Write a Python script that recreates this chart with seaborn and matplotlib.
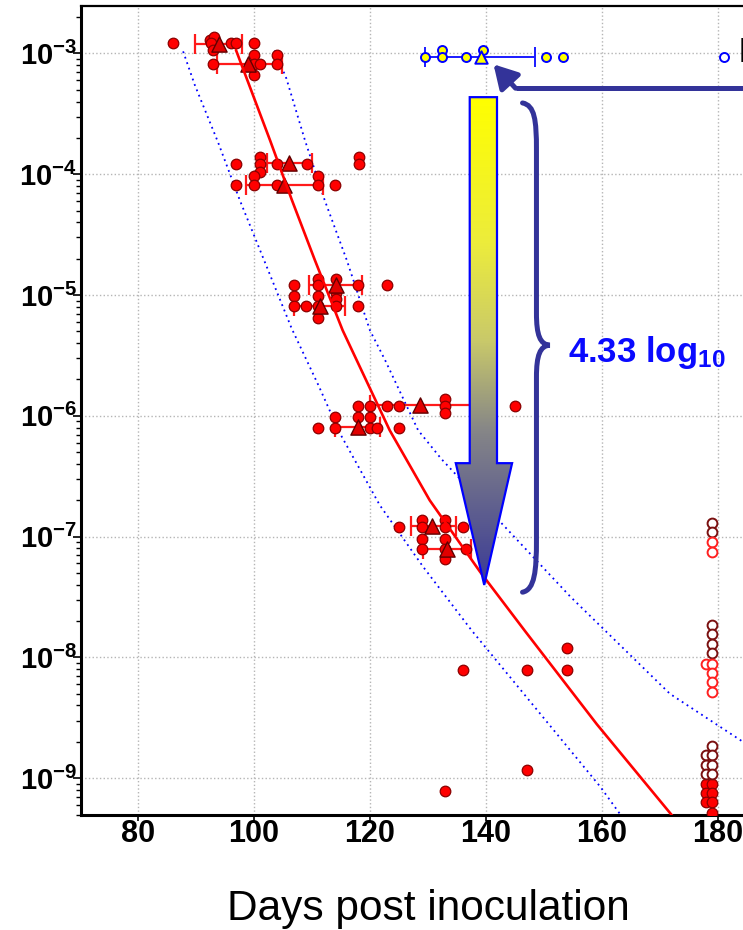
import numpy as np
import pandas as pd
import seaborn as sns
import matplotlib.pyplot as plt
from matplotlib.path import Path
from matplotlib.patches import PathPatch, Polygon
from matplotlib.colors import LinearSegmentedColormap
from matplotlib.ticker import LogLocator, FuncFormatter, NullFormatter

# individual animals (filled red circles), day of death vs. dilution
red_days = [86.0, 92.4, 93.2, 92.6, 93.0, 96.0, 97.0, 100.0,
            93.0, 100.0, 100.0, 100.0, 101.0, 104.0, 104.0,
            97.0, 101.0, 101.0, 101.0, 104.0, 109.1, 118.1, 118.1,
            97.0, 100.0, 100.0, 104.0, 111.0, 111.0, 114.0,
            106.9, 111.1, 111.1, 114.1, 118.0, 123.0,
            106.9, 106.9, 109.0, 111.1, 111.1, 111.1, 114.1, 114.1, 114.1, 118.0,
            118.0, 120.0, 123.0, 125.0, 132.9, 132.9, 132.9, 145.0,
            111.1, 114.0, 114.0, 118.0, 120.0, 120.0, 121.2, 125.0,
            125.0, 129.0, 129.0, 133.0, 133.0, 136.0,
            129.0, 129.0, 133.0, 133.0, 133.0, 136.5,
            136.0, 147.0, 153.9, 153.9, 147.0, 132.9,
            178.0, 179.0, 178.0, 179.0, 178.0, 179.0, 179.0]
red_conc = [1.21e-3, 1.30e-3, 1.36e-3, 1.21e-3, 1.06e-3, 1.21e-3, 1.21e-3, 1.21e-3,
            8.1e-4, 9.7e-4, 8.1e-4, 6.6e-4, 8.1e-4, 9.7e-4, 8.1e-4,
            1.21e-4, 1.39e-4, 1.21e-4, 1.05e-4, 1.21e-4, 1.21e-4, 1.38e-4, 1.21e-4,
            8.1e-5, 9.6e-5, 8.1e-5, 8.1e-5, 9.6e-5, 8.1e-5, 8.1e-5,
            1.2e-5, 1.37e-5, 1.2e-5, 1.37e-5, 1.2e-5, 1.2e-5,
            9.8e-6, 8.1e-6, 8.1e-6, 9.8e-6, 8.1e-6, 6.5e-6, 1.03e-5, 9.2e-6, 8.1e-6, 8.1e-6,
            1.21e-6, 1.21e-6, 1.21e-6, 1.21e-6, 1.39e-6, 1.21e-6, 1.05e-6, 1.21e-6,
            8.0e-7, 9.8e-7, 8.0e-7, 9.8e-7, 9.8e-7, 8.0e-7, 8.0e-7, 8.0e-7,
            1.2e-7, 1.37e-7, 1.2e-7, 1.37e-7, 1.2e-7, 1.2e-7,
            9.5e-8, 7.9e-8, 9.5e-8, 7.9e-8, 6.5e-8, 7.9e-8,
            7.85e-9, 7.85e-9, 7.85e-9, 1.19e-8, 1.18e-9, 7.8e-10,
            8.9e-10, 8.9e-10, 7.5e-10, 7.5e-10, 6.3e-10, 6.3e-10, 5.2e-10]

# group means (triangles) with ranges
mean_days = [94.0, 98.9, 106.1, 105.2, 114.1, 111.4, 128.7, 118.0, 130.7, 133.3]
mean_conc = [1.19e-3, 8.1e-4, 1.23e-4, 8.2e-5, 1.2e-5, 8.1e-6, 1.23e-6, 8.1e-7, 1.22e-7, 7.9e-8]
mean_lo = [89.8, 93.7, 102.2, 98.6, 109.5, 106.9, 120.0, 114.0, 127.0, 129.2]
mean_hi = [98.0, 104.8, 110.1, 111.9, 118.7, 115.7, 138.6, 121.8, 134.8, 137.5]

# survivors (open circles) at end of study
dark_open_days = [179, 179, 179, 179, 179, 179, 179, 178, 179, 178, 179, 178, 179]
dark_open_conc = [1.30e-7, 1.09e-7, 1.85e-8, 1.55e-8, 1.30e-8, 1.09e-8,
                  1.85e-9, 1.55e-9, 1.55e-9, 1.29e-9, 1.29e-9, 1.08e-9, 1.08e-9]
red_open_days = [179, 179, 178, 179, 179, 179, 179]
red_open_conc = [9.0e-8, 7.4e-8, 8.9e-9, 8.9e-9, 7.5e-9, 6.2e-9, 5.2e-9]

# second inoculum group (yellow / blue)
ctrl_days = [129.5, 132.5, 132.5, 136.5, 139.5, 150.3, 153.3]
ctrl_conc = [9.3e-4, 1.06e-3, 9.3e-4, 9.3e-4, 1.06e-3, 9.3e-4, 9.3e-4]
ctrl_mean_day, ctrl_mean_conc, ctrl_lo, ctrl_hi = 139.1, 9.4e-4, 129.5, 148.4
ctrl_open_day, ctrl_open_conc = 181.0, 9.3e-4

# fitted curve and its confidence band
fit_days = [96.9, 102.8, 106.5, 110.5, 115.3, 117.7, 123.4, 130.3, 139.0, 146.7, 159.1, 172.1]
fit_conc = [1.07e-3, 1.9e-4, 6.2e-5, 1.95e-5, 5.1e-6, 2.9e-6, 7.6e-7, 2.0e-7, 5.1e-8,
            1.66e-8, 2.8e-9, 4.9e-10]
lo_days = [87.8, 89.8, 93.8, 97.6, 102.8, 106.5, 111.1, 114.8, 121.7, 129.2, 137.5, 159.7, 163.3]
lo_conc = [1.04e-3, 5.5e-4, 1.85e-4, 6.05e-5, 1.46e-5, 5.3e-6, 1.8e-6, 7.2e-7, 1.82e-7,
           5.6e-8, 1.68e-8, 8.5e-10, 4.9e-10]
hi_days = [103.6, 105.6, 108.8, 112.2, 116.0, 120.0, 122.6, 128.3, 132.3, 143.3, 154.5,
           171.7, 184.3]
hi_conc = [1.06e-3, 6.2e-4, 1.91e-4, 6.1e-5, 1.95e-5, 5.1e-6, 2.9e-6, 7.6e-7, 4.4e-7,
           1.2e-7, 3.2e-8, 5.0e-9, 2.0e-9]

xticks = [80, 100, 120, 140, 160, 180]

sns.set_theme(style="white")
plt.rcParams['font.family'] = ['Liberation Sans', 'DejaVu Sans']
plt.rcParams['mathtext.fontset'] = 'custom'
plt.rcParams['mathtext.rm'] = 'Liberation Sans'
plt.rcParams['mathtext.bf'] = 'Liberation Sans:bold'
plt.rcParams['mathtext.it'] = 'Liberation Sans:italic'
plt.rcParams['text.color'] = 'black'
plt.rcParams['axes.labelcolor'] = 'black'
plt.rcParams['xtick.color'] = 'black'
plt.rcParams['ytick.color'] = 'black'

W, H = 743, 930
fig = plt.figure(figsize=(W / 100, H / 100), dpi=100)
pos = [81 / W, 115 / H, 1 - 81 / W, 809 / H]
ax = fig.add_axes(pos)
ax.set_yscale('log')
xlim = (70.2, 184.3)
ylim = (4.96e-10, 2.47e-3)

ax.grid(True, which='major', ls=':', color='#b5b5b5', lw=1.0)
ax.set_axisbelow(True)

sns.lineplot(x=lo_days, y=lo_conc, sort=False, estimator=None, color='#0000ff',
             lw=1.3, linestyle=(0, (1, 2.2)), ax=ax, zorder=2)
sns.lineplot(x=hi_days, y=hi_conc, sort=False, estimator=None, color='#0000ff',
             lw=1.3, linestyle=(0, (1, 2.2)), ax=ax, zorder=2)

ax.errorbar(mean_days, mean_conc,
            xerr=[np.subtract(mean_days, mean_lo), np.subtract(mean_hi, mean_days)],
            fmt='none', ecolor='#ff1a1a', elinewidth=1.6, capsize=7, capthick=1.6, zorder=3)
ax.errorbar([ctrl_mean_day], [ctrl_mean_conc],
            xerr=[[ctrl_mean_day - ctrl_lo], [ctrl_hi - ctrl_mean_day]],
            fmt='none', ecolor='#1a1aff', elinewidth=1.4, capsize=7, capthick=1.4, zorder=3)

red_df = pd.DataFrame({'day': red_days, 'conc': red_conc})
sns.scatterplot(data=red_df, x='day', y='conc', marker='o', s=58, color='#ff0000',
                edgecolor='#8b0000', linewidth=0.9, ax=ax, zorder=4)
sns.scatterplot(x=mean_days, y=mean_conc, marker='^', s=120, color='#e00000',
                edgecolor='#600000', linewidth=1.0, ax=ax, zorder=5)
sns.scatterplot(x=dark_open_days, y=dark_open_conc, marker='o', s=50, color='white',
                edgecolor='#7a1010', linewidth=1.4, ax=ax, zorder=4)
sns.scatterplot(x=red_open_days, y=red_open_conc, marker='o', s=50, color='white',
                edgecolor='#ff2020', linewidth=1.4, ax=ax, zorder=4)
sns.scatterplot(x=ctrl_days, y=ctrl_conc, marker='o', s=42, color='#ffff00',
                edgecolor='#0000ff', linewidth=1.4, ax=ax, zorder=4)
sns.scatterplot(x=[ctrl_mean_day], y=[ctrl_mean_conc], marker='^', s=80, color='#ffff00',
                edgecolor='#0000ff', linewidth=1.4, ax=ax, zorder=5)
sns.scatterplot(x=[ctrl_open_day], y=[ctrl_open_conc], marker='o', s=42, color='white',
                edgecolor='#0000ff', linewidth=1.4, ax=ax, zorder=4)

sns.lineplot(x=fit_days, y=fit_conc, sort=False, estimator=None, color='#ff0000',
             lw=1.9, ax=ax, zorder=6)

ax.set_xlim(*xlim)
ax.set_ylim(*ylim)
ax.set_xticks(xticks)
ax.yaxis.set_major_locator(LogLocator(base=10, numticks=20))
ax.yaxis.set_minor_locator(LogLocator(base=10, subs=np.arange(2, 10), numticks=20))
ax.yaxis.set_minor_formatter(NullFormatter())
ax.yaxis.set_major_formatter(FuncFormatter(lambda v, p: r'$\mathbf{10^{%d}}$' % round(np.log10(v))))
ax.tick_params(axis='y', which='major', direction='out', length=6, width=1.2,
               color='black', labelcolor='black', labelsize=21, pad=-3, left=True)
ax.tick_params(axis='y', which='minor', direction='out', length=3.5, width=1.0,
               color='black', left=True)
ax.tick_params(axis='x', which='major', direction='out', length=4, width=1.2,
               color='black', labelcolor='black', labelsize=22, pad=-1, bottom=True)
for lab in ax.get_xticklabels():
    lab.set_fontweight('bold')
ax.set_xlabel('Days post inoculation', fontsize=30.5, color='black', va='top')
ax.xaxis.set_label_coords(0.524, -0.091)
ax.set_ylabel('')

for side in ['left', 'bottom']:
    ax.spines[side].set_linewidth(2.2)
    ax.spines[side].set_color('black')
ax.spines['top'].set_linewidth(1.6)
ax.spines['top'].set_color('black')
ax.spines['right'].set_visible(False)

# overlay in (day, log10 dilution) units for the annotations
ov = fig.add_axes(pos)
ov.set_axis_off()
ov.patch.set_alpha(0)

arrow_xy = [(137.2, -3.362), (141.9, -3.362), (141.9, -6.392), (144.5, -6.392),
            (139.7, -7.40), (134.8, -6.392), (137.2, -6.392)]
cmap = LinearSegmentedColormap.from_list(
    'arrow', [(0, '#ffff00'), (0.3, '#ecec3c'), (0.5, '#c9c96a'),
              (0.68, '#878787'), (1.0, '#3a3a96')])
grad = np.linspace(0, 1, 256).reshape(-1, 1)
im = ov.imshow(grad, cmap=cmap, aspect='auto', origin='upper',
               extent=[134.8, 144.5, -7.40, -3.362], zorder=5)
arrow = Polygon(arrow_xy, closed=True, fc='none', ec='#0000ff', lw=1.6, zorder=6)
ov.add_patch(arrow)
im.set_clip_path(arrow)

brace = Path([(146.3, -3.41), (148.4, -3.43), (148.7, -3.55), (148.7, -3.80),
              (148.7, -5.15),
              (148.7, -5.33), (149.3, -5.41), (151.0, -5.415),
              (149.3, -5.42), (148.7, -5.50), (148.7, -5.68),
              (148.7, -7.03),
              (148.7, -7.28), (148.4, -7.44), (146.3, -7.46)],
             [Path.MOVETO, Path.CURVE4, Path.CURVE4, Path.CURVE4,
              Path.LINETO,
              Path.CURVE4, Path.CURVE4, Path.CURVE4,
              Path.CURVE4, Path.CURVE4, Path.CURVE4,
              Path.LINETO,
              Path.CURVE4, Path.CURVE4, Path.CURVE4])
ov.add_patch(PathPatch(brace, fc='none', ec='#333399', lw=3.6, capstyle='round', zorder=6))

ov.text(154.1, -5.555, r'$\mathbf{4.33\ log_{10}}$', color='#0a0aff', fontsize=25,
        ha='left', va='baseline', zorder=7)

ov.plot([186, 145.1], [-3.288, -3.288], color='#333399', lw=3.6, solid_capstyle='butt', zorder=6)
ov.annotate('', xy=(141.3, -3.09), xytext=(145.1, -3.288),
            arrowprops=dict(arrowstyle='-|>,head_length=0.7,head_width=0.4', color='#333399',
                            lw=3.6, mutation_scale=20, shrinkA=0, shrinkB=0), zorder=6)

ov.set_xlim(*xlim)
ov.set_ylim(np.log10(ylim[0]), np.log10(ylim[1]))

fig.text(738.5 / W, 1 - 52 / H, 'I', fontsize=25, fontweight='bold', color='black',
         ha='left', va='center')

fig.savefig('out.png', dpi=100)
